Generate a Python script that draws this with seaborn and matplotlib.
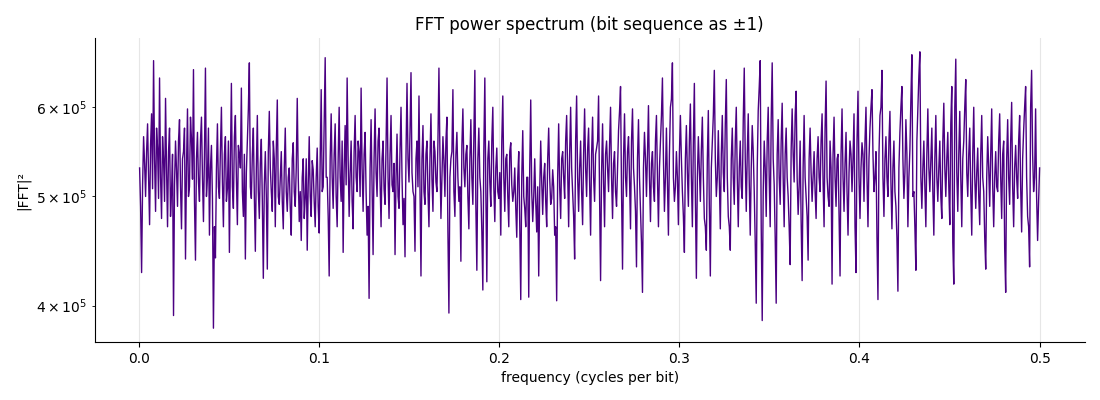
import numpy as np
import pandas as pd
import matplotlib
matplotlib.use("Agg")
import matplotlib.pyplot as plt
import seaborn as sns

# power values (in thousands), even samples (~every 2 px)
power_even_k = [
    530, 428, 565, 500, 580, 472, 592, 660, 485, 552,
    637, 478, 540, 611, 470, 575, 505, 392, 560, 490,
    585, 468, 548, 440, 598, 510, 562, 648, 439, 570,
    495, 588, 475, 650, 520, 462, 555, 382, 441, 580,
    498, 600, 470, 565, 508, 446, 630, 488, 590, 472,
    545, 624, 480, 440, 560, 657, 498, 575, 447, 590,
    478, 562, 423, 548, 431, 595, 505, 560, 470, 609,
    492, 548, 468, 575, 485, 530, 462, 558, 490, 611,
    475, 457, 540, 498, 448, 565, 480, 528, 470, 552,
    464, 622, 510, 664, 520, 425, 592, 488, 580, 470,
    600, 495, 446, 578, 637, 480, 560, 468, 590, 505,
    548, 624, 485, 570, 462, 406, 585, 444, 598, 500,
    575, 470, 560, 492, 637, 478, 590, 505, 444, 568,
    488, 600, 472, 442, 630, 515, 644, 505, 447, 560,
    614, 425, 578, 492, 560, 470, 592, 485, 548, 505,
    650, 478, 565, 500, 588, 394, 540, 622, 480, 570,
    495, 438, 598, 510, 555, 468, 585, 492, 647, 430,
    575, 505, 413, 637, 420, 560, 490, 600, 475, 552,
    498, 462, 614, 485, 545, 470, 558, 495, 530, 460,
    548, 405, 572, 488, 520, 407, 609, 475, 540, 465,
    425, 560, 482, 535, 470, 575, 492, 528, 462, 404,
    580, 478, 548, 498, 590, 470, 600, 505, 440, 614,
    485, 560, 472, 598, 500, 575, 462, 588, 495, 552,
    614, 421, 580, 470, 560, 505, 600, 478, 548, 490,
    572, 626, 431, 592, 500, 565, 468, 598, 510, 433,
    585, 488, 411, 570, 500, 602, 475, 548, 495, 590,
    470, 560, 637, 485, 575, 462, 600, 657, 495, 548,
    472, 590, 505, 446, 578, 490, 604, 470, 630, 423,
    565, 495, 588, 478, 448, 596, 425, 560, 647, 500,
    572, 468, 590, 505, 635, 480, 448, 575, 492, 600,
    470, 560, 498, 650, 485, 592, 462, 578, 505, 402,
    596, 660, 388, 560, 480, 600, 470, 657, 512, 402,
    585, 492, 605, 470, 575, 500, 435, 598, 515, 620,
    482, 560, 421, 590, 500, 439, 575, 495, 548, 478,
    565, 505, 592, 470, 633, 500, 560, 418, 588, 490,
    545, 425, 598, 485, 570, 462, 560, 505, 592, 428,
    620, 478, 558, 495, 600, 470, 575, 622, 505, 548,
    405, 590, 647, 480, 565, 500, 595, 468, 560, 490,
    412, 570, 626, 498, 585, 470, 550, 668, 505, 430,
    600, 672, 488, 560, 470, 598, 505, 575, 462, 590,
    495, 560, 478, 605, 500, 570, 472, 626, 418, 662,
    485, 595, 470, 560, 635, 500, 575, 462, 600, 488,
    552, 472, 590, 505, 431, 565, 490, 598, 470, 548,
    505, 592, 478, 560, 411, 585, 492, 606, 470, 555,
    498, 590, 465, 572, 626, 480, 433, 647, 505, 598,
    457, 530,
]

# odd samples, lying between the even ones above
power_odd_k = [
    490, 512, 535, 548, 520, 556, 508, 540, 575, 498,
    520, 565, 495, 530, 548, 480, 545, 512, 528, 560,
    510, 540, 575, 530, 500, 588, 518, 495, 540, 515,
    560, 520, 545, 500, 575, 530, 498, 470, 528, 510,
    550, 515, 545, 495, 560, 538, 510, 565, 520, 555,
    530, 505, 545, 525, 598, 510, 545, 500, 530, 505,
    535, 495, 512, 500, 548, 530, 485, 540, 552, 500,
    520, 495, 530, 505, 520, 488, 540, 505, 530, 520,
    505, 520, 478, 540, 512, 500, 538, 495, 520, 490,
    540, 505, 585, 520, 480, 540, 520, 545, 500, 540,
    520, 560, 530, 512, 540, 525, 495, 548, 520, 560,
    500, 530, 545, 505, 490, 530, 510, 540, 525, 560,
    515, 540, 508, 555, 520, 545, 512, 535, 520, 500,
    550, 520, 498, 545, 540, 570, 525, 500, 540, 510,
    512, 540, 505, 545, 505, 540, 518, 560, 515, 560,
    545, 520, 538, 560, 465, 520, 548, 505, 545, 520,
    510, 555, 530, 545, 500, 540, 520, 565, 490, 540,
    520, 465, 550, 505, 540, 515, 560, 510, 530, 505,
    525, 560, 520, 540, 500, 548, 512, 505, 488, 520,
    470, 520, 500, 470, 520, 530, 505, 500, 495, 510,
    505, 515, 520, 495, 540, 520, 498, 510, 470, 520,
    510, 540, 520, 560, 525, 545, 530, 480, 560, 520,
    530, 505, 545, 530, 550, 515, 545, 520, 545, 560,
    500, 525, 515, 545, 530, 555, 520, 535, 505, 530,
    595, 505, 540, 520, 548, 520, 560, 530, 485, 540,
    520, 455, 530, 540, 545, 520, 535, 510, 560, 520,
    530, 590, 540, 520, 515, 545, 610, 520, 510, 520,
    545, 540, 480, 540, 525, 560, 520, 560, 500, 520,
    530, 550, 520, 470, 540, 490, 530, 590, 540, 520,
    520, 545, 525, 580, 520, 470, 540, 520, 560, 520,
    530, 510, 585, 540, 545, 515, 530, 548, 455, 530,
    625, 470, 505, 530, 560, 520, 585, 540, 460, 545,
    520, 560, 520, 545, 520, 470, 550, 545, 590, 520,
    510, 475, 530, 520, 480, 540, 525, 520, 505, 540,
    520, 560, 515, 575, 520, 490, 530, 545, 520, 540,
    480, 545, 520, 535, 505, 525, 545, 540, 470, 560,
    520, 530, 545, 560, 520, 540, 600, 545, 520, 460,
    545, 600, 520, 540, 520, 560, 515, 530, 505, 460,
    530, 600, 540, 525, 545, 520, 610, 500, 470, 560,
    640, 520, 530, 510, 545, 530, 540, 505, 540, 520,
    530, 500, 560, 530, 540, 510, 580, 455, 600, 525,
    545, 520, 540, 600, 525, 545, 505, 545, 520, 525,
    500, 545, 520, 460, 520, 530, 545, 510, 520, 510,
    560, 520, 545, 450, 540, 520, 560, 510, 530, 520,
    560, 510, 540, 600, 520, 470, 600, 545, 520, 500,
    495,
]

# put the two sample sets back in order along the frequency axis
power_k = []
for i, v in enumerate(power_even_k):
    power_k.append(v)
    if i < len(power_odd_k):
        power_k.append(power_odd_k[i])

n = len(power_k)
# frequency grid, cycles per bit (up to Nyquist)
freqs = np.arange(1, n + 1) * 0.5 / n
df = pd.DataFrame({"freq": freqs, "power": np.array(power_k) * 1000.0})

fig, ax = plt.subplots(figsize=(11, 4), dpi=100)
sns.lineplot(data=df, x="freq", y="power", color="#4B0082", linewidth=1.0, ax=ax)
ax.set_yscale("log")
ax.grid(axis="x", color="#e6e6e6", linewidth=0.8)
ax.set_axisbelow(True)
sns.despine(ax=ax)

ax.set_title("FFT power spectrum (bit sequence as ±1)", fontsize=12)
ax.set_xlabel("frequency (cycles per bit)")
ax.set_ylabel("|FFT|²")

fig.subplots_adjust(left=0.086, right=0.986, top=0.905, bottom=0.145)
fig.savefig("out.png")
